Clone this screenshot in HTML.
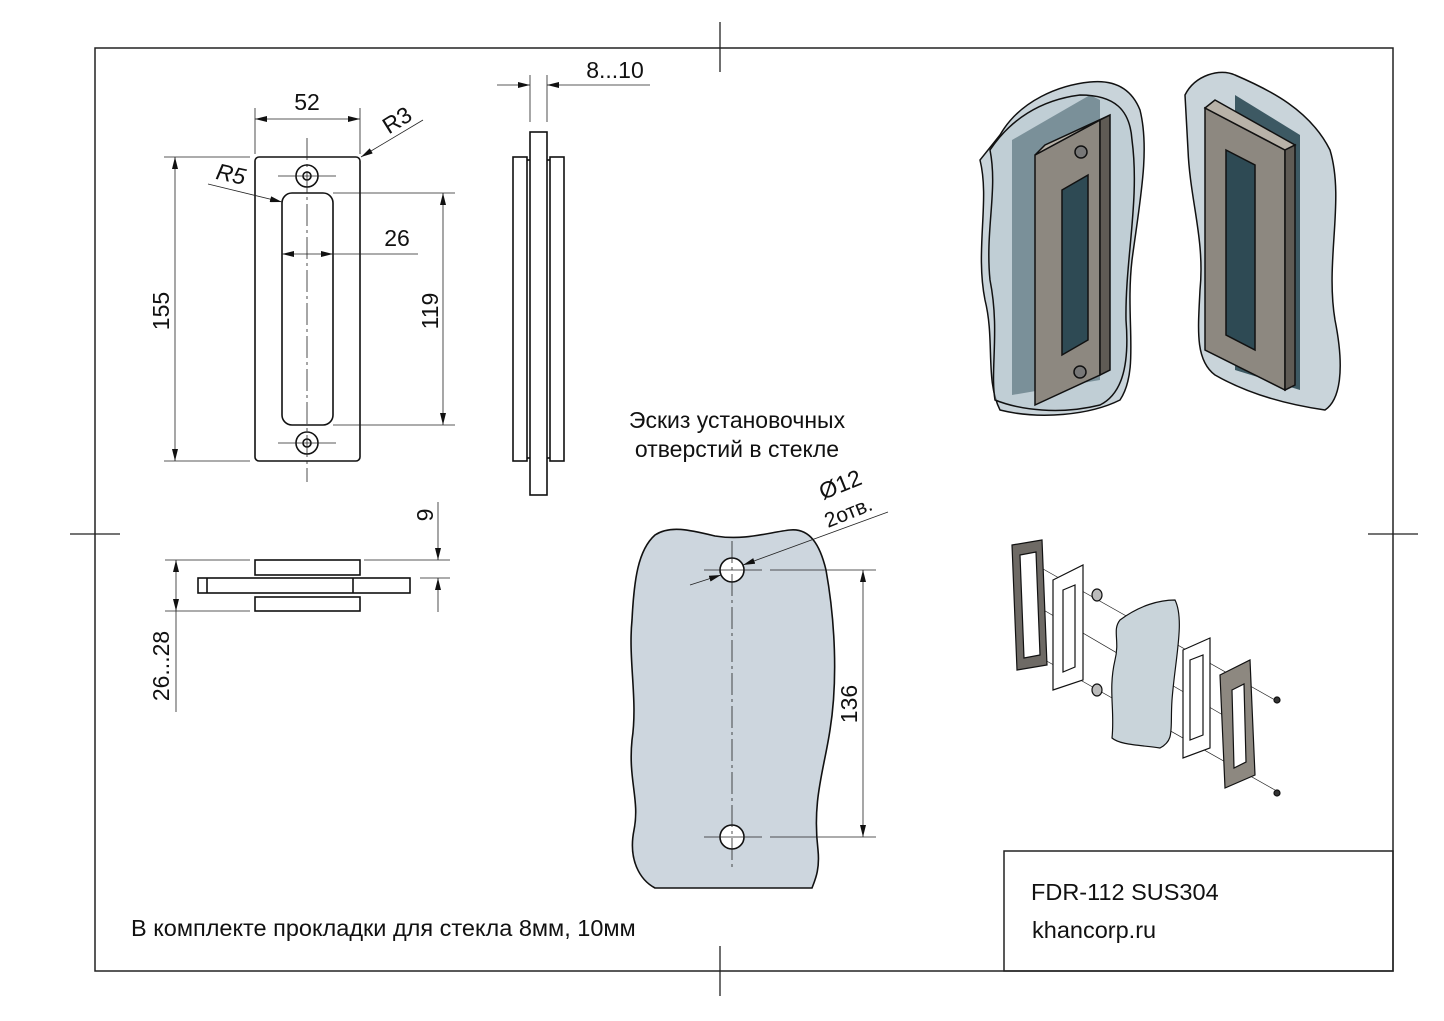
<!DOCTYPE html>
<html><head><meta charset="utf-8"><style>
html,body{margin:0;padding:0;background:#fff;}
svg{display:block;}
text{font-family:"Liberation Sans",Arial,sans-serif;fill:#111;}
</style></head><body>
<svg width="1444" height="1021" viewBox="0 0 1444 1021" xmlns="http://www.w3.org/2000/svg">
<defs>
<marker id="a" viewBox="0 0 12 6" refX="12" refY="3" markerWidth="12" markerHeight="6" orient="auto-start-reverse" markerUnits="userSpaceOnUse"><path d="M0,0 L12,3 L0,6z" fill="#111"/></marker>
</defs>
<rect width="1444" height="1021" fill="#fff"/>
<rect x="95" y="48" width="1298" height="923" fill="none" stroke="#222" stroke-width="1.5"/>
<g stroke="#222" stroke-width="1.3">
<line x1="720" y1="22" x2="720" y2="72"/><line x1="720" y1="946" x2="720" y2="996"/>
<line x1="70" y1="534" x2="120" y2="534"/><line x1="1368" y1="534" x2="1418" y2="534"/>
</g>
<rect x="1004" y="851" width="389" height="120" fill="none" stroke="#222" stroke-width="1.5"/>
<text x="1031" y="900" font-size="23.5">FDR-112 SUS304</text>
<text x="1032" y="938" font-size="23.5">khancorp.ru</text>
<text x="131" y="936" font-size="23.5">В комплекте прокладки для стекла 8мм, 10мм</text>

<g fill="none" stroke="#111" stroke-width="1.6">
<rect x="255" y="157" width="105" height="304" rx="4"/>
<rect x="282" y="193" width="51" height="232" rx="10"/>
<circle cx="307" cy="176" r="11"/><circle cx="307" cy="176" r="4"/>
<circle cx="307" cy="443" r="11"/><circle cx="307" cy="443" r="4"/>
</g>
<g stroke="#222" stroke-width="0.8" fill="none">
<line x1="307" y1="138" x2="307" y2="482" stroke-dasharray="22,4,3,4"/>
<line x1="278" y1="176" x2="336" y2="176"/><line x1="278" y1="443" x2="336" y2="443"/>
<line x1="255" y1="108" x2="255" y2="154"/><line x1="360" y1="108" x2="360" y2="154"/>
<line x1="255" y1="119" x2="360" y2="119" marker-start="url(#a)" marker-end="url(#a)"/>
<line x1="423" y1="120" x2="361" y2="157" marker-end="url(#a)"/>
<line x1="208" y1="184" x2="282" y2="202" marker-end="url(#a)"/>
<line x1="307" y1="254" x2="282" y2="254" marker-end="url(#a)"/>
<line x1="307" y1="254" x2="333" y2="254" marker-end="url(#a)"/>
<line x1="333" y1="254" x2="418" y2="254"/>
<line x1="333" y1="193" x2="455" y2="193"/><line x1="333" y1="425" x2="455" y2="425"/>
<line x1="443" y1="193" x2="443" y2="425" marker-start="url(#a)" marker-end="url(#a)"/>
<line x1="164" y1="157" x2="250" y2="157"/><line x1="164" y1="461" x2="250" y2="461"/>
<line x1="175" y1="157" x2="175" y2="461" marker-start="url(#a)" marker-end="url(#a)"/>
</g>
<text x="307" y="110" font-size="23" text-anchor="middle">52</text>
<text x="397" y="128" font-size="23" text-anchor="middle" transform="rotate(-32 397 120)">R3</text>
<text x="231" y="182" font-size="23" text-anchor="middle" font-style="italic" transform="rotate(12 231 174)">R5</text>
<text x="397" y="246" font-size="23" text-anchor="middle">26</text>
<text x="0" y="0" font-size="23" text-anchor="middle" transform="translate(438,311) rotate(-90)">119</text>
<text x="0" y="0" font-size="23" text-anchor="middle" transform="translate(169,311) rotate(-90)">155</text>

<g fill="none" stroke="#111" stroke-width="1.6">
<rect x="530" y="132" width="17" height="363"/>
<rect x="513" y="157" width="14" height="304"/>
<rect x="550" y="157" width="14" height="304"/>
<line x1="527" y1="160" x2="530" y2="160"/><line x1="527" y1="458" x2="530" y2="458"/>
<line x1="547" y1="160" x2="550" y2="160"/><line x1="547" y1="458" x2="550" y2="458"/>
</g>
<g stroke="#222" stroke-width="0.8">
<line x1="530" y1="75" x2="530" y2="122"/><line x1="547" y1="75" x2="547" y2="122"/>
<line x1="497" y1="85" x2="530" y2="85" marker-end="url(#a)"/>
<line x1="650" y1="85" x2="547" y2="85" marker-end="url(#a)"/>
</g>
<text x="615" y="78" font-size="23" text-anchor="middle">8...10</text>

<g fill="none" stroke="#111" stroke-width="1.6">
<rect x="255" y="560" width="105" height="15"/>
<rect x="198" y="578" width="212" height="15"/>
<rect x="255" y="597" width="105" height="14"/>
<line x1="207" y1="578" x2="207" y2="593"/>
<line x1="353" y1="578" x2="353" y2="593"/>
</g>
<g stroke="#222" stroke-width="0.8">
<line x1="165" y1="560" x2="250" y2="560"/><line x1="165" y1="611" x2="250" y2="611"/>
<line x1="176" y1="560" x2="176" y2="611" marker-start="url(#a)" marker-end="url(#a)"/>
<line x1="176" y1="611" x2="176" y2="712"/>
<line x1="364" y1="560" x2="450" y2="560"/><line x1="420" y1="578" x2="450" y2="578"/>
<line x1="438" y1="502" x2="438" y2="560" marker-end="url(#a)"/>
<line x1="438" y1="612" x2="438" y2="578" marker-end="url(#a)"/>
</g>
<text x="0" y="0" font-size="23" text-anchor="middle" transform="translate(169,666) rotate(-90)">26...28</text>
<text x="0" y="0" font-size="23" text-anchor="middle" transform="translate(433,515) rotate(-90)">9</text>

<text x="737" y="428" font-size="23" text-anchor="middle">Эскиз установочных</text>
<text x="737" y="457" font-size="23" text-anchor="middle">отверстий в стекле</text>
<path d="M655,535 C670,525 690,530 715,536 C745,541 770,532 790,530 C810,528 820,545 826,570 C835,620 838,680 830,730 C824,770 812,800 818,850 C820,870 815,880 812,888 L655,888 C640,880 628,860 634,830 C640,800 628,780 632,740 C638,700 628,660 632,620 C634,580 638,550 655,535 Z" fill="#cdd6de" stroke="#111" stroke-width="1.6"/>
<circle cx="732" cy="570" r="12" fill="#fff" stroke="#111" stroke-width="1.6"/>
<circle cx="732" cy="837" r="12" fill="#fff" stroke="#111" stroke-width="1.6"/>
<g stroke="#222" stroke-width="0.8" fill="none">
<line x1="732" y1="541" x2="732" y2="868" stroke-dasharray="22,4,3,4"/>
<line x1="704" y1="570" x2="762" y2="570"/><line x1="704" y1="837" x2="762" y2="837"/>
<line x1="770" y1="570" x2="876" y2="570"/><line x1="770" y1="837" x2="876" y2="837"/>
<line x1="863" y1="570" x2="863" y2="837" marker-start="url(#a)" marker-end="url(#a)"/>
<line x1="690" y1="585" x2="721" y2="575" marker-end="url(#a)"/>
<line x1="888" y1="512" x2="743" y2="565" marker-end="url(#a)"/>
</g>
<text x="0" y="0" font-size="23" text-anchor="middle" transform="translate(857,704) rotate(-90)">136</text>
<text x="0" y="0" font-size="23" transform="translate(823,500) rotate(-22)">Ø12</text>
<text x="0" y="0" font-size="21" transform="translate(828,528) rotate(-22)">2отв.</text>

<g stroke="#111" stroke-width="1.5">
<path d="M1000,135 C1020,100 1060,85 1090,82 C1110,80 1130,85 1140,110 C1150,150 1140,200 1132,260 C1125,320 1140,370 1120,400 C1090,415 1040,420 1000,410 C985,380 995,340 985,300 C975,250 990,200 980,160 Z" fill="#c9d4da"/>
<path d="M1012,140 L1090,95 L1100,100 L1100,380 L1012,395 Z" fill="#3d5963" stroke="none"/>
<path d="M990,150 C1010,120 1040,100 1080,95 C1115,95 1130,110 1132,140 C1140,200 1125,260 1126,320 C1130,370 1120,395 1100,405 C1060,415 1020,410 995,400 C990,370 1000,330 990,280 C985,230 998,190 990,150 Z" fill="#b8c8cf" fill-opacity="0.5"/>
<path d="M1035,155 L1100,120 L1100,375 L1035,405 Z" fill="#8d8880"/>
<path d="M1035,155 L1045,145 L1110,115 L1100,120 Z" fill="#b8b2a8"/>
<path d="M1100,120 L1110,115 L1110,370 L1100,375 Z" fill="#5f5b55"/>
<path d="M1062,190 L1088,175 L1088,340 L1062,355 Z" fill="#2e4a54"/>
<circle cx="1081" cy="152" r="6" fill="#777"/><circle cx="1080" cy="372" r="6" fill="#777"/>
</g>
<g stroke="#111" stroke-width="1.5">
<path d="M1185,95 C1195,75 1220,68 1235,75 C1270,90 1310,110 1330,150 C1345,200 1325,260 1335,320 C1345,370 1340,400 1325,410 C1290,405 1250,395 1215,375 C1195,360 1198,330 1200,290 C1205,240 1190,200 1188,150 Z" fill="#c9d4da"/>
<path d="M1235,95 L1300,135 L1300,390 L1235,370 Z" fill="#3d5963" stroke="none"/>
<path d="M1205,108 L1285,150 L1285,390 L1205,350 Z" fill="#8d8880"/>
<path d="M1205,108 L1215,100 L1295,145 L1285,150 Z" fill="#b8b2a8"/>
<path d="M1285,150 L1295,145 L1295,385 L1285,390 Z" fill="#5f5b55"/>
<path d="M1226,150 L1255,165 L1255,350 L1226,335 Z" fill="#2e4a54"/>
</g>

<g stroke="#222" stroke-width="0.7" fill="none">
<line x1="1036" y1="565" x2="1275" y2="700"/>
<line x1="1036" y1="655" x2="1275" y2="790"/>
<line x1="1035" y1="605" x2="1240" y2="725"/>
</g>
<g stroke="#111" stroke-width="1.2">
<path d="M1012,545 L1042,540 L1047,665 L1017,670 Z" fill="#6e6a65"/>
<path d="M1020,555 L1036,552 L1040,655 L1024,658 Z" fill="#fff"/>
<path d="M1053,580 L1083,565 L1083,680 L1053,690 Z" fill="#fff"/>
<path d="M1063,590 L1075,585 L1075,667 L1063,672 Z" fill="none"/>
<ellipse cx="1097" cy="595" rx="5" ry="6" fill="#bbb"/><ellipse cx="1097" cy="690" rx="5" ry="6" fill="#bbb"/>
<path d="M1120,620 C1140,605 1160,600 1175,600 C1185,620 1175,660 1172,700 C1170,730 1175,740 1160,748 C1140,745 1120,745 1112,738 C1115,710 1108,690 1115,660 C1120,640 1112,630 1120,620 Z" fill="#c9d4da"/>
<path d="M1183,650 L1210,638 L1210,748 L1183,758 Z" fill="#fff"/>
<path d="M1190,660 L1203,655 L1203,735 L1190,740 Z" fill="none"/>
<path d="M1220,675 L1250,660 L1255,775 L1225,788 Z" fill="#8d8880"/>
<path d="M1232,690 L1244,684 L1246,762 L1234,768 Z" fill="#fff"/>
<circle cx="1277" cy="700" r="3" fill="#333"/><circle cx="1277" cy="793" r="3" fill="#333"/>
</g>
</svg>
</body></html>
